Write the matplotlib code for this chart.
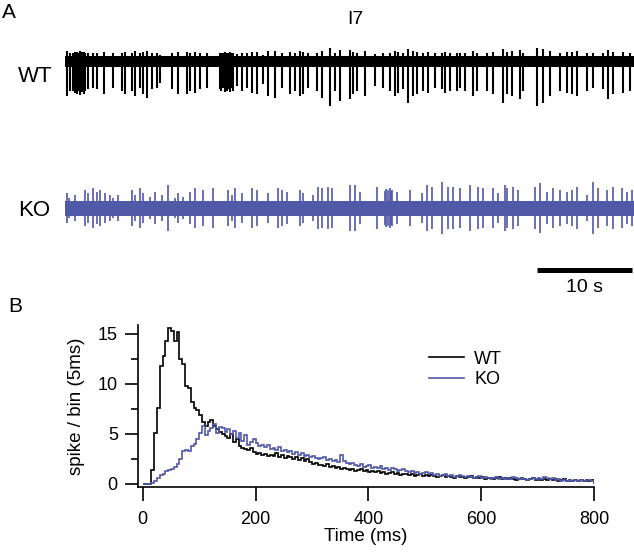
import numpy as np
import matplotlib
matplotlib.use('Agg')
import matplotlib.pyplot as plt

plt.rcParams['font.family'] = ['Liberation Sans', 'DejaVu Sans']

WT_COLOR = '#000000'
KO_COLOR = '#5058a8'

# ---- panel A: spike times (s) and spike amplitudes (a.u.) ----
duration = 60.0
wt_times = [0.21, 0.53, 0.84, 1.0, 1.16, 1.26, 1.42, 1.58, 1.68, 1.84, 2.0, 2.1,
            2.42, 2.95, 3.37, 4.1, 5.05, 6.0, 6.32, 7.05, 7.37, 7.89, 8.21, 8.63,
            9.16, 9.68, 10.0, 11.26, 11.89, 12.84, 13.16, 13.68, 14.21, 14.95,
            16.32, 16.47, 16.63, 16.79, 16.95, 17.1, 17.26, 17.42, 17.58, 17.68,
            18.1, 18.63, 19.16, 19.68,
            20.21, 20.84, 21.37, 22.1, 22.84, 23.68, 24.21, 24.74, 25.05, 25.58,
            26.53, 27.05, 27.89, 28.42, 28.95, 30.0, 30.32, 30.74, 31.58, 32.63,
            33.47, 34.21, 34.74, 35.05, 35.58, 36.1, 36.63, 37.05, 37.68, 38.21,
            38.95, 39.68,
            40.0, 40.53, 41.26, 41.58, 42.1, 42.95, 43.37, 44.42, 45.05, 46.1,
            46.53, 47.05, 47.89, 48.21, 49.68, 50.32, 51.05, 52.1, 52.84, 53.37,
            53.89, 54.95, 55.58, 56.63, 57.16, 57.68, 58.74, 59.47]
wt_depth = [35, 30, 30, 32, 28, 33, 30, 34, 29, 31, 33, 30,
            28, 27, 28, 33, 27, 30, 33, 30, 35, 27, 33, 37,
            28, 27, 22, 28, 33, 33, 30, 32, 28, 27,
            28, 30, 27, 31, 29, 30, 28, 31, 27, 30,
            25, 30, 27, 32,
            33, 23, 35, 37, 27, 33, 30, 35, 33, 27,
            30, 37, 45, 30, 40, 38, 33, 30, 35, 25,
            27, 30, 35, 32, 28, 42, 35, 33, 30, 32,
            27, 28,
            32, 30, 30, 27, 30, 35, 30, 30, 33, 42,
            33, 35, 38, 30, 45, 42, 35, 30, 32, 33,
            35, 30, 27, 28, 38, 33, 32, 30]

ko_times = [0.21, 0.37, 1.05, 2.11, 2.42, 2.95, 3.37, 3.68, 4.21, 4.74, 5.05, 5.58,
            7.05, 7.37, 7.89, 8.21, 8.95, 9.47, 10.21, 10.84, 11.58, 11.89, 12.42,
            13.16, 13.68, 14.53, 15.58, 17.16, 17.58, 17.89, 18.63, 19.68,
            20.18, 21.4, 22.45, 22.81, 23.34, 24.74, 25.08, 26.14, 26.66, 27.02,
            27.72, 28.07, 30.0, 30.53, 31.05, 32.81, 33.68, 33.84, 34.0, 34.16,
            34.32, 34.42, 34.92, 36.32, 37.55, 38.07, 38.6, 39.65,
            40.35, 40.87, 41.58, 42.63, 43.51, 44.03, 45.08, 45.61, 46.32, 46.49,
            47.19, 47.72, 49.47, 50.0, 50.71, 51.4, 52.11, 52.81, 53.34, 53.86,
            54.92, 55.61, 56.14, 57.02, 57.72, 58.6, 59.13, 59.65]
ko_amp = [14.7, 9.7, 13, 18, 14.7, 19.7, 16.3, 18, 14.7, 13, 9.7, 13,
          18, 13, 19.7, 14.7, 11.3, 16.3, 13, 23, 9.7, 14.7, 11.3,
          16.3, 19.7, 18, 19.7, 18, 13, 19.7, 14.7, 19.7,
          18, 14.7, 19.7, 18, 16.3, 18, 14.7, 13, 21.3, 19.7,
          21.3, 19.7, 23, 23, 16.3, 21.3, 17, 19, 18, 20,
          17, 18, 16.3, 18, 14.7, 23, 21.3, 26.3,
          21.3, 21.3, 19.7, 23, 21.3, 19.7, 19.7, 14.7, 23, 19.7,
          21.3, 18, 21.3, 24.7, 16.3, 19.7, 18, 16.3, 18, 21.3,
          13, 26.3, 19.7, 18, 21.3, 19.7, 16.3, 18]

wt_noise = 5.5
ko_noise = 7.5

# ---- panel B: PSTH, 5 ms bins, 0-800 ms ----
bin_edges = np.arange(0, 805, 5)
wt_counts = [0, 0, 0.05,
             1.4, 5.1, 7.6, 11.8, 12.8, 14.3, 15.6, 15.3, 14.3, 15.2,
             12.5, 12.0, 9.8, 9.6, 8.2, 7.6, 7.4, 6.9, 6.2, 5.8,
             6.2, 6.4, 5.8, 5.5, 5.2, 5.0, 4.8, 4.6, 5.0, 4.2,
             4.5, 3.8, 3.6, 3.5, 3.4, 3.6, 3.2, 3.0, 3.1, 2.9,
             3.0, 2.8, 2.9, 2.8, 3.1, 2.7, 2.9, 2.6, 2.8, 2.7,
             2.5, 2.7, 2.4, 2.6, 2.3, 2.5, 2.2, 2.0, 2.1, 1.9,
             1.9, 1.8, 2.0, 1.7, 1.8, 1.6, 1.7, 1.5, 1.6, 1.5,
             1.4, 1.5, 1.3, 1.4, 1.5, 1.3, 1.4, 1.2, 1.3, 1.2,
             1.3, 1.1, 1.2, 1.0, 1.1, 1.2, 1.0, 1.1, 0.9, 1.0,
             1.0, 0.9, 1.0, 0.8, 0.9, 1.0, 0.8, 0.9, 0.8, 0.9,
             0.8, 0.7, 0.8, 0.9, 0.7, 0.8, 0.7, 0.6, 0.8, 0.7,
             0.7, 0.6, 0.7, 0.8, 0.6, 0.7, 0.6, 0.7, 0.5, 0.6,
             0.6, 0.5, 0.6, 0.7, 0.5, 0.6, 0.5, 0.6, 0.5, 0.4,
             0.5, 0.6, 0.5, 0.4, 0.5, 0.6, 0.4, 0.5, 0.4, 0.5,
             0.4, 0.5, 0.4, 0.5, 0.3, 0.4, 0.5, 0.3, 0.4, 0.3,
             0.4, 0.3, 0.4, 0.3, 0.4, 0.3, 0.4]
ko_counts = [0, 0, 0,
             0.1, 0.3, 0.6, 0.9, 1.0, 1.3, 1.4, 1.5, 1.7, 2.0,
             2.5, 3.3, 3.4, 3.3, 3.8, 4.0, 4.5, 5.1, 5.8, 4.9,
             5.3, 5.6, 6.0, 5.1, 5.7, 5.6, 5.2, 5.5, 5.0, 5.3,
             4.6, 5.1, 4.3, 4.9, 3.9, 4.2, 4.5, 4.1, 3.8, 3.9,
             3.7, 3.9, 3.5, 3.6, 3.4, 3.7, 3.3, 3.4, 3.2, 3.3,
             3.0, 3.2, 2.9, 3.1, 2.8, 2.9, 2.7, 2.8, 2.6, 2.5,
             2.6, 2.7, 2.4, 2.5, 2.3, 2.4, 2.2, 2.9, 2.3, 2.1,
             2.0, 2.1, 1.9, 1.8, 2.0, 1.7, 1.8, 1.9, 1.6, 1.7,
             1.6, 1.8, 1.5, 1.6, 1.4, 1.6, 1.5, 1.3, 1.4, 1.5,
             1.3, 1.2, 1.3, 1.1, 1.2, 1.0, 1.1, 1.2, 1.0, 1.1,
             0.9, 1.0, 0.8, 0.9, 1.0, 0.8, 0.9, 0.7, 0.8, 0.9,
             0.8, 0.7, 0.8, 0.7, 0.6, 0.7, 0.8, 0.6, 0.7, 0.6,
             0.5, 0.6, 0.7, 0.5, 0.6, 0.5, 0.6, 0.5, 0.7, 0.6,
             0.5, 0.6, 0.5, 0.4, 0.5, 0.6, 0.5, 0.6, 0.5, 0.7,
             0.6, 0.5, 0.6, 0.4, 0.5, 0.3, 0.4, 0.3, 0.4, 0.3,
             0.4, 0.3, 0.4, 0.3, 0.4, 0.4, 0.3]

W, H = 634, 554
fig = plt.figure(figsize=(W / 100, H / 100), dpi=100)


def px_rect(x0, y0, x1, y1):
    return [x0 / W, 1 - y1 / H, (x1 - x0) / W, (y1 - y0) / H]


# ---- panel A ----
axA = fig.add_axes(px_rect(65, 36, 635, 296))
wt_off = 0
ko_off = -147
t = np.array([0, duration])
axA.fill_between(t, wt_off - wt_noise, wt_off + wt_noise, color=WT_COLOR, lw=0)
axA.vlines(wt_times, wt_off - np.array(wt_depth), wt_off + 0.28 * np.array(wt_depth),
           color=WT_COLOR, lw=1.5)
axA.fill_between(t, ko_off - ko_noise, ko_off + ko_noise, color=KO_COLOR, lw=0)
axA.vlines(ko_times, ko_off - np.array(ko_amp), ko_off + np.array(ko_amp),
           color=KO_COLOR, lw=1.2)
# scale bar 10 s
axA.plot([49.7, 59.7], [-209, -209], color='black', lw=3.6, solid_capstyle='butt')
axA.text(54.7, -227, '10 s', ha='center', va='center', fontsize=14)
axA.set_xlim(0, duration)
axA.set_ylim(-235, 25)
axA.axis('off')

fig.text(2 / W, 1 - 12 / H, 'A', fontsize=15, va='center', ha='left')
fig.text(355 / W, 1 - 20 / H, 'I7', fontsize=14, va='center', ha='center')
fig.text(18 / W, 1 - 77 / H, 'WT', fontsize=16, va='center', ha='left')
fig.text(18 / W, 1 - 210 / H, 'KO', fontsize=16, va='center', ha='left')
fig.text(8 / W, 1 - 307 / H, 'B', fontsize=15, va='center', ha='left')

# ---- panel B ----
axB = fig.add_axes(px_rect(138, 325, 594, 487))
axB.stairs(wt_counts, bin_edges, color=WT_COLOR, lw=1.2, label='WT')
axB.stairs(ko_counts, bin_edges, color=KO_COLOR, lw=1.2, label='KO')
axB.set_xlim(-8.5, 800)
axB.set_ylim(-0.3, 15.9)
for s in ['top', 'right']:
    axB.spines[s].set_visible(False)
for s in ['left', 'bottom']:
    axB.spines[s].set_linewidth(1.2)
axB.set_xticks([0, 200, 400, 600, 800])
axB.set_yticks([0, 5, 10, 15])
axB.set_yticks([2.5, 7.5, 12.5], minor=True)
axB.tick_params(axis='x', direction='out', length=10, width=1.2, pad=7, labelsize=13)
axB.tick_params(axis='y', which='major', direction='out', length=9.5, width=1.2, pad=5, labelsize=13)
axB.tick_params(axis='y', which='minor', direction='out', length=5, width=1.2)
axB.set_xlabel('Time (ms)', fontsize=13.5, labelpad=0)
axB.set_ylabel('spike / bin (5ms)', fontsize=13.5, labelpad=9)
axB.legend(loc='center left', bbox_to_anchor=(429 / W, 1 - 369.5 / H),
           bbox_transform=fig.transFigure, frameon=False, fontsize=13,
           handlelength=1.95, handletextpad=0.55, labelspacing=0.2,
           borderpad=0, borderaxespad=0)

fig.savefig('out.png', dpi=100)
